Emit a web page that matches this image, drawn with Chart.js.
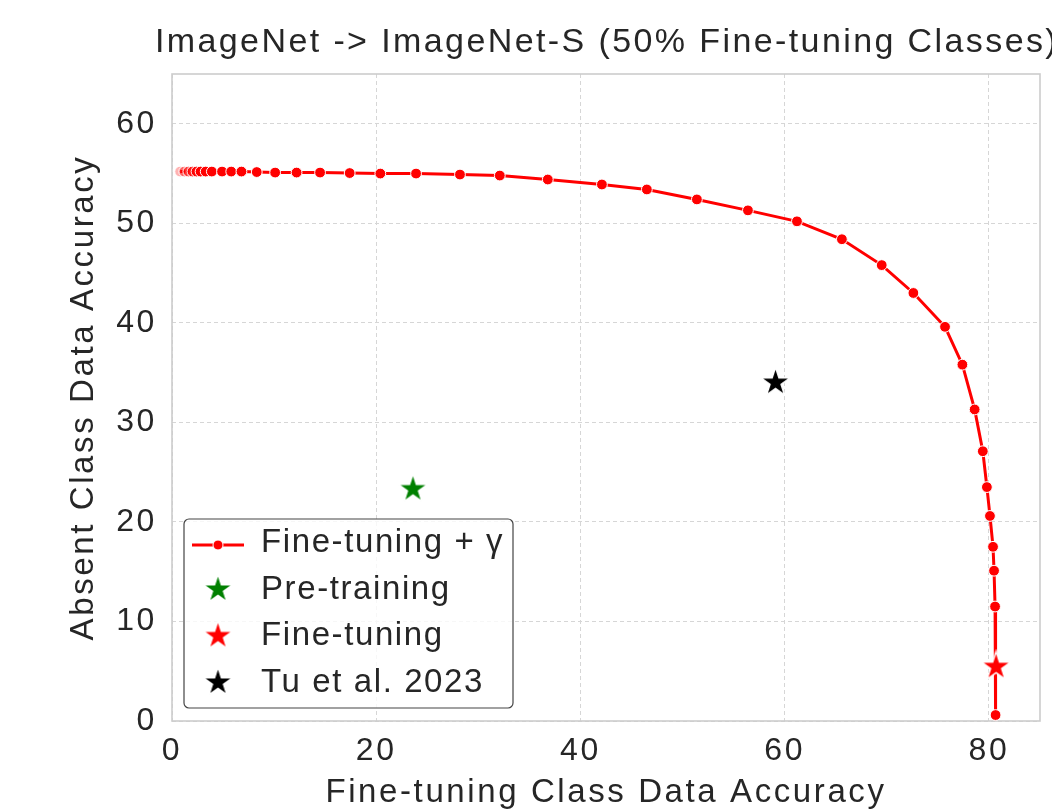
<!DOCTYPE html>
<html>
<head>
<meta charset="utf-8">
<script src="https://cdn.jsdelivr.net/npm/chart.js@4.4.0/dist/chart.umd.min.js"></script>
<style>
  html, body { margin: 0; padding: 0; background: #fff; overflow: hidden; }
  #wrap { width: 1052px; height: 830px; }
</style>
</head>
<body>
<div id="wrap"><canvas id="tradeoffChart" width="1052" height="830"></canvas></div>
<script>
// fine-tuning + gamma sweep
var curveX = [0.8, 1.2, 1.6, 2.0, 2.4, 2.8, 3.3, 3.9, 4.9, 5.8, 6.8, 8.3, 10.1, 12.2, 14.5,
  17.4, 20.4, 23.9, 28.2, 32.1, 36.8, 42.1, 46.5, 51.4, 56.4, 61.2, 65.6, 69.5, 72.6, 75.7,
  77.4, 78.6, 79.4, 79.8, 80.1, 80.4, 80.5, 80.6, 80.65];
var curveY = [55.2, 55.2, 55.2, 55.2, 55.2, 55.2, 55.2, 55.2, 55.2, 55.2, 55.2, 55.15, 55.1, 55.1, 55.1,
  55.05, 55.0, 55.0, 54.9, 54.8, 54.4, 53.9, 53.4, 52.4, 51.3, 50.2, 48.4, 45.8, 43.0, 39.6,
  35.8, 31.3, 27.1, 23.5, 20.6, 17.5, 15.1, 11.5, 0.6];

// single reference points: pre-training, fine-tuning, Tu et al. 2023
var starX = [23.6, 80.7, 59.1];
var starY = [23.3, 5.45, 34.0];
var starColors = ['green', 'red', 'black'];

var seriesLabels = ['Fine-tuning + \u03b3', 'Pre-training', 'Fine-tuning', 'Tu et al. 2023'];
var xTicks = [0, 20, 40, 60, 80];
var yTicks = [0, 10, 20, 30, 40, 50, 60];

var FONT = "'Liberation Sans', Arial, Helvetica, sans-serif";
var TEXT = '#262626';

function toPoints(xs, ys) {
  var pts = [];
  for (var i = 0; i < xs.length; i++) pts.push({ x: xs[i], y: ys[i] });
  return pts;
}

// matplotlib-like '*' marker as an image
function makeStar(color, outer) {
  var c = document.createElement('canvas');
  var size = Math.ceil(outer * 2 + 4);
  c.width = size;
  c.height = size;
  var g = c.getContext('2d');
  var cx = size / 2, cy = size / 2, inner = outer * 0.381966;
  g.beginPath();
  for (var i = 0; i < 10; i++) {
    var r = i % 2 === 0 ? outer : inner;
    var a = -Math.PI / 2 + i * Math.PI / 5;
    var px = cx + r * Math.cos(a), py = cy + r * Math.sin(a);
    if (i === 0) g.moveTo(px, py); else g.lineTo(px, py);
  }
  g.closePath();
  g.fillStyle = color;
  g.fill();
  g.lineWidth = 1.5;
  g.strokeStyle = '#fff';
  g.stroke();
  return c;
}

var starImgs = starColors.map(function (c) { return makeStar(c, 15.3); });

// the first few markers pile up and look washed out in the original
var markerFill = curveX.map(function (v, i) {
  var fades = [0.3, 0.45, 0.6, 0.75, 0.9];
  return i < fades.length ? 'rgba(255,0,0,' + fades[i] + ')' : 'red';
});

var datasets = [{
  label: seriesLabels[0],
  data: toPoints(curveX, curveY),
  showLine: true,
  borderColor: 'red',
  borderWidth: 3,
  pointBackgroundColor: markerFill,
  pointBorderColor: '#fff',
  pointBorderWidth: 1,
  pointRadius: 5.4,
  order: 1
}];
for (var s = 0; s < starX.length; s++) {
  datasets.push({
    label: seriesLabels[s + 1],
    data: [{ x: starX[s], y: starY[s] }],
    pointStyle: starImgs[s],
    pointRadius: 15,
    backgroundColor: starColors[s],
    order: 0
  });
}

// the reference text is set wide, a little tracking helps
var spacingPlugin = {
  id: 'spacing',
  beforeDraw: function (chart) { chart.ctx.letterSpacing = '2.6px'; }
};

var framePlugin = {
  id: 'frame',
  beforeDatasetsDraw: function (chart) {
    var a = chart.chartArea, ctx = chart.ctx;
    ctx.save();
    ctx.strokeStyle = '#cccccc';
    ctx.lineWidth = 1.6;
    ctx.strokeRect(a.left, a.top, a.right - a.left, a.bottom - a.top);
    ctx.restore();
  }
};

var titlePlugin = {
  id: 'plotTitle',
  afterDraw: function (chart) {
    var a = chart.chartArea, ctx = chart.ctx;
    ctx.save();
    ctx.letterSpacing = '2.4px';
    ctx.font = '34px ' + FONT;
    ctx.fillStyle = TEXT;
    ctx.textAlign = 'center';
    ctx.textBaseline = 'middle';
    ctx.fillText('ImageNet -> ImageNet-S (50% Fine-tuning Classes)', (a.left + a.right) / 2 + 1, 43);
    ctx.restore();
  }
};

var legendPlugin = {
  id: 'boxLegend',
  afterDraw: function (chart) {
    var ctx = chart.ctx;
    var x0 = 184, y0 = 519, w = 329, h = 189, r = 5;
    var rows = [543, 589.5, 636, 682.5];
    ctx.save();
    ctx.beginPath();
    ctx.moveTo(x0 + r, y0);
    ctx.arcTo(x0 + w, y0, x0 + w, y0 + h, r);
    ctx.arcTo(x0 + w, y0 + h, x0, y0 + h, r);
    ctx.arcTo(x0, y0 + h, x0, y0, r);
    ctx.arcTo(x0, y0, x0 + w, y0, r);
    ctx.closePath();
    ctx.fillStyle = 'rgba(255,255,255,0.8)';
    ctx.fill();
    ctx.strokeStyle = '#444';
    ctx.lineWidth = 1.2;
    ctx.stroke();

    // line handle
    ctx.strokeStyle = 'red';
    ctx.lineWidth = 3;
    ctx.beginPath();
    ctx.moveTo(192, rows[0] + 2);
    ctx.lineTo(244, rows[0] + 2);
    ctx.stroke();
    ctx.beginPath();
    ctx.arc(218, rows[0] + 2, 5, 0, Math.PI * 2);
    ctx.fillStyle = 'red';
    ctx.fill();
    ctx.strokeStyle = '#fff';
    ctx.lineWidth = 1;
    ctx.stroke();

    for (var i = 0; i < starImgs.length; i++) {
      var im = starImgs[i];
      ctx.drawImage(im, 218 - im.width / 2, rows[i + 1] - im.height / 2);
    }

    ctx.letterSpacing = '1.6px';
    ctx.font = '33px ' + FONT;
    ctx.fillStyle = TEXT;
    ctx.textAlign = 'left';
    ctx.textBaseline = 'middle';
    for (var j = 0; j < seriesLabels.length; j++) {
      ctx.fillText(seriesLabels[j], 261, rows[j]);
    }
    ctx.restore();
  }
};

var ctx = document.getElementById('tradeoffChart').getContext('2d');
var tradeoffChart = new Chart(ctx, {
  type: 'scatter',
  data: { datasets: datasets },
  options: {
    responsive: false,
    animation: false,
    events: [],
    layout: { autoPadding: false, padding: { left: 0, right: 12, top: 74, bottom: 0 } },
    plugins: {
      legend: { display: false },
      tooltip: { enabled: false },
      title: { display: false }
    },
    scales: {
      x: {
        type: 'linear',
        min: 0,
        max: 85,
        afterBuildTicks: function (scale) {
          scale.ticks = xTicks.map(function (v) { return { value: v }; });
        },
        afterFit: function (scale) {
          scale.height = 109;
          scale.paddingLeft = 0;
          scale.paddingRight = 0;
        },
        grid: { color: '#d6d6d6', lineWidth: 1, drawTicks: false },
        border: { display: false, dash: [4, 3] },
        ticks: { color: TEXT, padding: 11, font: { family: FONT, size: 32 } },
        title: {
          display: true,
          text: 'Fine-tuning Class Data Accuracy',
          color: TEXT,
          font: { family: FONT, size: 33 },
          padding: { top: 0, bottom: 17 }
        }
      },
      y: {
        type: 'linear',
        min: 0,
        max: 65,
        afterBuildTicks: function (scale) {
          scale.ticks = yTicks.map(function (v) { return { value: v }; });
        },
        afterFit: function (scale) {
          scale.width = 172;
          scale.paddingTop = 0;
          scale.paddingBottom = 0;
        },
        grid: { color: '#d6d6d6', lineWidth: 1, drawTicks: false },
        border: { display: false, dash: [4, 3] },
        ticks: { color: TEXT, padding: 15, font: { family: FONT, size: 32 } },
        title: {
          display: true,
          text: 'Absent Class Data Accuracy',
          color: TEXT,
          font: { family: FONT, size: 33 },
          padding: { top: 64, bottom: 0 }
        }
      }
    }
  },
  plugins: [spacingPlugin, framePlugin, titlePlugin, legendPlugin]
});
</script>
</body>
</html>
